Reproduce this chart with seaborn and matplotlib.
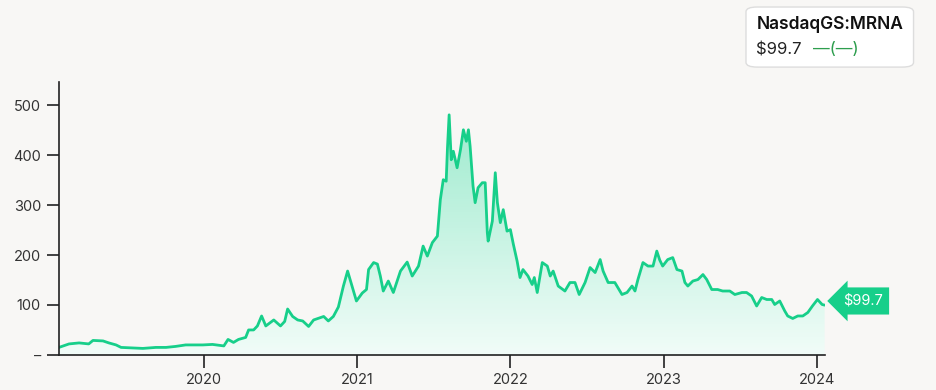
#!/usr/bin/env python3

import numpy as np
import pandas as pd
import matplotlib
matplotlib.use('Agg')
import matplotlib.pyplot as plt
import matplotlib.dates as mdates
import seaborn as sns

# Price history
dates = [
    '2019-01-21', '2019-02-14', '2019-03-10', '2019-04-02', '2019-04-12', '2019-05-06',
    '2019-05-20', '2019-06-06', '2019-06-18', '2019-08-09', '2019-09-09', '2019-10-03',
    '2019-10-26', '2019-11-19', '2019-12-30', '2020-01-22', '2020-02-18', '2020-02-28',
    '2020-03-12', '2020-03-24', '2020-04-10', '2020-04-17', '2020-04-29', '2020-05-08',
    '2020-05-18', '2020-05-28', '2020-06-16', '2020-07-02', '2020-07-12', '2020-07-19',
    '2020-07-31', '2020-08-12', '2020-08-24', '2020-09-07', '2020-09-19', '2020-10-13',
    '2020-10-24', '2020-11-05', '2020-11-17', '2020-11-29', '2020-12-09', '2020-12-16',
    '2020-12-30', '2021-01-13', '2021-01-23', '2021-01-28', '2021-02-09', '2021-02-18',
    '2021-02-25', '2021-03-04', '2021-03-16', '2021-03-28', '2021-04-14', '2021-04-30',
    '2021-05-12', '2021-05-27', '2021-06-07', '2021-06-17', '2021-06-29', '2021-07-11',
    '2021-07-18', '2021-07-25', '2021-08-01', '2021-08-04', '2021-08-08', '2021-08-13',
    '2021-08-18', '2021-08-27', '2021-09-04', '2021-09-11', '2021-09-18', '2021-09-23',
    '2021-09-27', '2021-10-04', '2021-10-09', '2021-10-16', '2021-10-26', '2021-11-02',
    '2021-11-07', '2021-11-09', '2021-11-19', '2021-11-26', '2021-12-01', '2021-12-08',
    '2021-12-15', '2021-12-24', '2022-01-01', '2022-01-08', '2022-01-17', '2022-01-24',
    '2022-01-31', '2022-02-12', '2022-02-22', '2022-02-27', '2022-03-06', '2022-03-18',
    '2022-03-30', '2022-04-06', '2022-04-13', '2022-04-25', '2022-05-11', '2022-05-23',
    '2022-06-04', '2022-06-14', '2022-06-28', '2022-07-10', '2022-07-22', '2022-08-03',
    '2022-08-10', '2022-08-22', '2022-09-07', '2022-09-24', '2022-10-06', '2022-10-18',
    '2022-10-25', '2022-11-01', '2022-11-13', '2022-11-25', '2022-12-07', '2022-12-16',
    '2022-12-23', '2022-12-30', '2023-01-11', '2023-01-23', '2023-02-02', '2023-02-14',
    '2023-02-21', '2023-02-28', '2023-03-12', '2023-03-24', '2023-04-05', '2023-04-14',
    '2023-04-26', '2023-05-10', '2023-05-22', '2023-06-08', '2023-06-20', '2023-07-07',
    '2023-07-18', '2023-07-30', '2023-08-11', '2023-08-23', '2023-09-04', '2023-09-16',
    '2023-09-23', '2023-10-05', '2023-10-17', '2023-10-24', '2023-11-05', '2023-11-17',
    '2023-11-29', '2023-12-11', '2023-12-22', '2024-01-03', '2024-01-14', '2024-01-20',
]
prices = [
    15, 22, 24, 22, 29, 28,
    24, 20, 15, 13, 15, 15,
    17, 20, 20, 21, 18, 31,
    25, 31, 35, 50, 50, 58,
    78, 58, 70, 58, 67, 92,
    77, 70, 68, 57, 70, 77,
    68, 77, 96, 138, 168, 148,
    108, 124, 131, 171, 185, 182,
    158, 128, 148, 125, 168, 186,
    158, 178, 218, 198, 225, 238,
    311, 351, 348, 414, 481, 391,
    408, 375, 411, 451, 428, 451,
    418, 338, 305, 335, 345, 345,
    245, 228, 268, 365, 305, 265,
    291, 248, 251, 222, 188, 155,
    171, 158, 141, 155, 125, 185,
    178, 158, 168, 138, 128, 145,
    145, 121, 145, 175, 165, 191,
    168, 145, 145, 121, 125, 138,
    128, 151, 185, 178, 178, 208,
    190, 178, 191, 195, 171, 168,
    145, 138, 148, 151, 161, 151,
    131, 131, 128, 128, 121, 125,
    125, 118, 98, 115, 111, 111,
    101, 108, 88, 78, 73, 78,
    78, 85, 98, 111, 101, 99.7,
]
ticker = 'NasdaqGS:MRNA'
last_label = '$99.7'
y_ticks = [0, 100, 200, 300, 400, 500]
y_labels = ['–', '100', '200', '300', '400', '500']

GREEN = '#17CF8A'
BG = '#F8F7F5'
TEXT = '#333333'

sns.set_theme(style='white')
plt.rcParams['font.family'] = ['Inter', 'DejaVu Sans']

df = pd.DataFrame({'date': pd.to_datetime(dates), 'price': prices})

fig = plt.figure(figsize=(9.36, 3.9), dpi=100, facecolor=BG)
ax = fig.add_axes([0.063, 0.09, 0.818, 0.70])
ax.set_facecolor(BG)

sns.lineplot(data=df, x='date', y='price', ax=ax, color=GREEN, linewidth=2.0)

# Gradient fill under the line
x_num = mdates.date2num(df['date'])
ymax = 547
poly = ax.fill_between(x_num, df['price'], 0, color='none', linewidth=0)
grad = np.linspace(0.42, 0.06, 256).reshape(-1, 1)
cmap = matplotlib.colors.LinearSegmentedColormap.from_list('g', ['#FFFFFF', GREEN])
img = ax.imshow(grad, cmap=cmap, vmin=0, vmax=1, aspect='auto',
                extent=[x_num[0], x_num[-1], 0, 481], origin='upper', zorder=1)
img.set_clip_path(poly.get_paths()[0], transform=ax.transData)

ax.set_xlim(x_num[0], x_num[-1])
ax.set_ylim(0, ymax)

ax.set_yticks(y_ticks)
ax.set_yticklabels(y_labels)
ax.xaxis.set_major_locator(mdates.YearLocator())
ax.xaxis.set_major_formatter(mdates.DateFormatter('%Y'))
ax.set_xlabel('')
ax.set_ylabel('')

for side in ['top', 'right']:
    ax.spines[side].set_visible(False)
for side in ['left', 'bottom']:
    ax.spines[side].set_color('#222222')
    ax.spines[side].set_linewidth(1.2)

ax.tick_params(axis='both', which='major', length=9, width=1.2, color='#222222',
               labelsize=10.5, labelcolor=TEXT, pad=4, left=True, bottom=True)

# Price tag at the last point
ax.annotate(last_label, xy=(x_num[-1], prices[-1]), xytext=(13, 3),
            textcoords='offset points', va='center', ha='left',
            color='white', fontsize=10.5,
            bbox=dict(boxstyle='larrow,pad=0.45', fc=GREEN, ec='none'),
            annotation_clip=False)

# Ticker box
box = matplotlib.patches.FancyBboxPatch((0.797, 0.828), 0.179, 0.154,
                                        boxstyle='round,pad=0,rounding_size=0.012',
                                        transform=fig.transFigure, fc='white',
                                        ec='#DDDDDD', lw=1.0)
fig.patches.append(box)
fig.text(0.808, 0.938, ticker, fontsize=12.5, fontweight='semibold', color='#111111', va='center')
fig.text(0.808, 0.872, last_label, fontsize=12, color='#222222', va='center')
fig.text(0.869, 0.872, '—(—)', fontsize=12, color='#2E9E4E', va='center')

plt.savefig('out.png', dpi=100, facecolor=BG)
